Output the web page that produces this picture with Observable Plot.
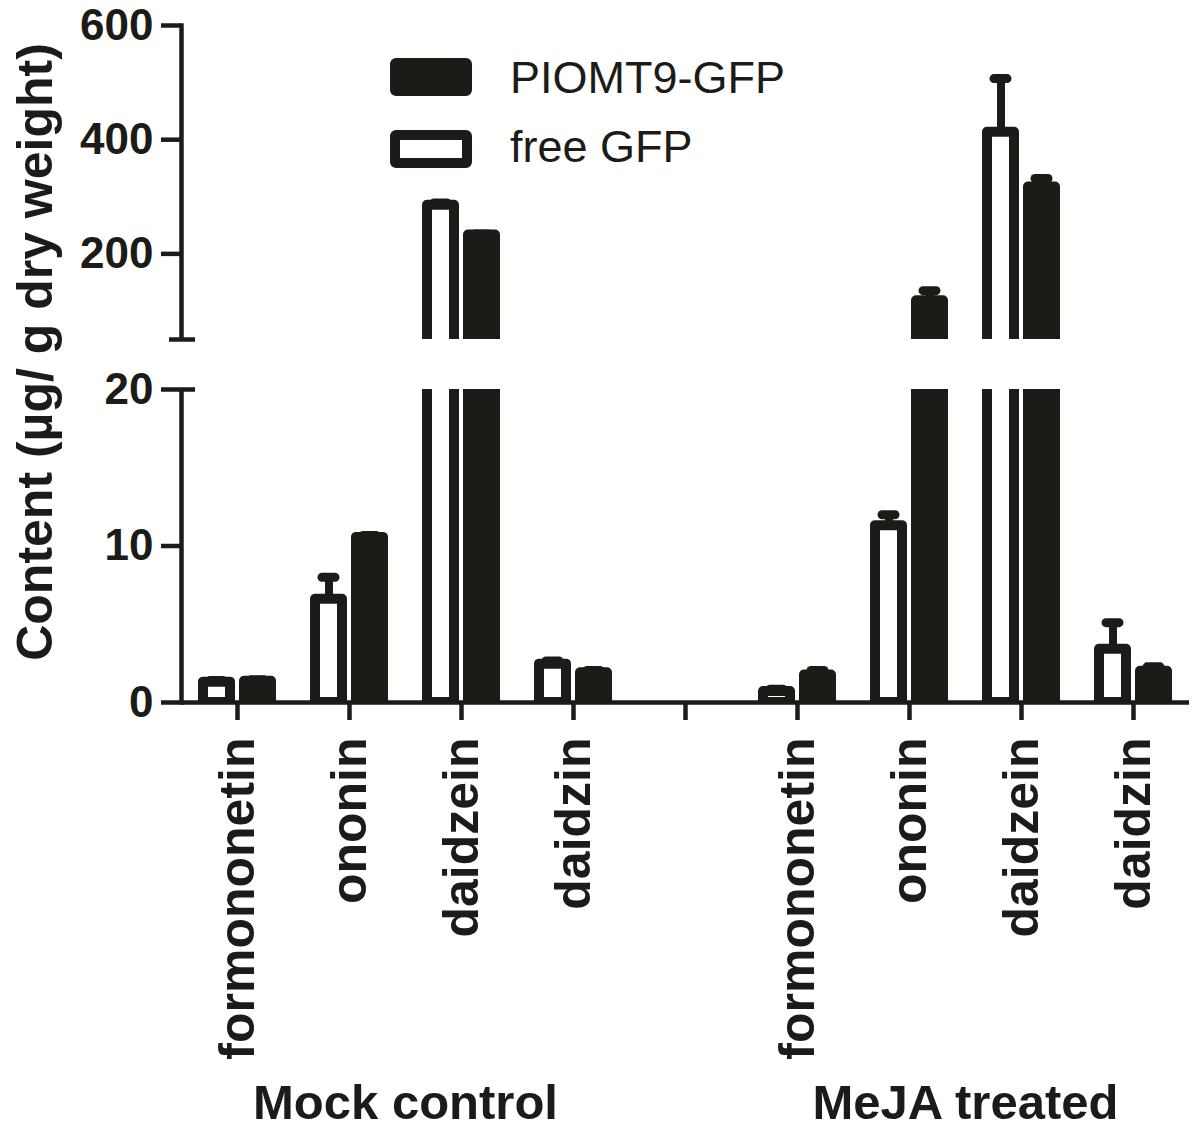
<!DOCTYPE html>
<html>
<head>
<meta charset="utf-8">
<script src="https://cdn.jsdelivr.net/npm/d3@7"></script>
<script src="https://cdn.jsdelivr.net/npm/@observablehq/plot@0.6"></script>
<style>
  body { margin: 0; background: #fff; }
  #wrap { position: relative; width: 1200px; height: 1130px; font-family: 'Liberation Sans', Arial, sans-serif; }
  .sw { position: absolute; left: 390px; width: 82px; height: 38px; border-radius: 6px; box-sizing: border-box; }
  .lt { position: absolute; left: 510px; font-size: 45px; line-height: 1; white-space: nowrap; }
</style>
</head>
<body>
<div id="wrap"></div>
<script>
// ---------- data ----------
const groups = ["Mock control", "MeJA treated"];
const compounds = ["formononetin", "ononin", "daidzein", "daidzin"];
const seriesNames = ["free GFP", "PIOMT9-GFP"];
const legendOrder = ["PIOMT9-GFP", "free GFP"];
const yTitle = "Content (µg/ g dry weight)";

// content (µg/g dry weight), mean and SD, per compound
const mockFree      = [1.3, 6.6, 285, 2.45];
const mockFreeSD    = [0.1, 1.4, 4, 0.2];
const mockPIOMT9    = [1.35, 10.55, 233, 1.9];
const mockPIOMT9SD  = [0.1, 0.12, 2, 0.15];
const mejaFree      = [0.7, 11.3, 413, 3.4];
const mejaFreeSD    = [0.15, 0.7, 94, 1.7];
const mejaPIOMT9    = [1.75, 118, 317, 2.0];
const mejaPIOMT9SD  = [0.3, 17.5, 15, 0.28];

const yTicks = [0, 10, 20, 200, 400, 600];
const yBreak = [20, 50];
const yMax = 600;

// ---------- table ----------
const values = {
  "Mock control": {"free GFP": [mockFree, mockFreeSD], "PIOMT9-GFP": [mockPIOMT9, mockPIOMT9SD]},
  "MeJA treated": {"free GFP": [mejaFree, mejaFreeSD], "PIOMT9-GFP": [mejaPIOMT9, mejaPIOMT9SD]}
};
const GAP = "·gap";
const slotKey = (g, c) => g + "|" + c;
const slots = [
  ...compounds.map(c => slotKey(groups[0], c)),
  GAP,
  ...compounds.map(c => slotKey(groups[1], c))
];
const rows = [];
for (const g of groups) for (const s of seriesNames) compounds.forEach((c, i) => {
  rows.push({slot: slotKey(g, c), group: g, compound: c, series: s,
             value: values[g][s][0][i], sd: values[g][s][1][i]});
});
const groupLabels = groups.map(g => ({slot: slotKey(g, compounds[1]), name: g}));

const ink = "#1d1b18";

const chart = Plot.plot({
  width: 1200,
  height: 1130,
  marginTop: 25,
  marginRight: 10,
  marginBottom: 428,
  marginLeft: 180,
  style: {fontFamily: "'Liberation Sans', Arial, sans-serif", color: ink, background: "white", overflow: "visible"},
  fx: {domain: slots, padding: 0, label: null},
  x: {domain: seriesNames, paddingInner: 0.34, paddingOuter: 0.525, axis: null},
  y: {type: "linear", domain: [0, yBreak[0], yBreak[1], yMax], range: [702, 389, 339, 25], label: null},
  color: {domain: seriesNames, range: ["white", ink]},
  marks: [
    Plot.frame({anchor: "left", facetAnchor: "left", stroke: ink, strokeWidth: 4.5}),
    Plot.barY(rows, {fx: "slot", x: "series", y: "value", fill: "series", stroke: ink,
                     strokeWidth: 10, strokeLinejoin: "round", clip: "frame"}),
    Plot.ruleX(rows, {fx: "slot", x: "series", y1: "value", y2: d => d.value + d.sd,
                      stroke: ink, strokeWidth: 8}),
    Plot.tickY(rows, {fx: "slot", x: "series", y: d => d.value + d.sd, stroke: ink,
                      strokeWidth: 9, strokeLinecap: "round", insetLeft: 7, insetRight: 7}),
    // axis break
    Plot.rect([yBreak], {y1: d => d[0], y2: d => d[1], fill: "white", insetLeft: -8, insetRight: -8}),
    // x baseline
    Plot.ruleY(slots, {fx: d => d, y: () => 0, stroke: ink, strokeWidth: 4.5}),
    Plot.axisY({ticks: yTicks, tickSize: 20, tickPadding: 8, strokeWidth: 4.5, fontSize: 44,
                fontWeight: "bold", label: null, facetAnchor: "left"}),
    Plot.axisY({ticks: yBreak, tickSize: 14, dx: 14, strokeWidth: 4.5, fill: "none", label: null, facetAnchor: "left"}),
    Plot.axisY({ticks: [yBreak[1]], tickSize: 12, strokeWidth: 4.5, fill: "none", label: null, facetAnchor: "left"}),
    Plot.axisFx({anchor: "bottom", tickSize: 18, tickPadding: 17, tickRotate: -90, strokeWidth: 4.5,
                 fontSize: 50, fontWeight: "bold", label: null,
                 tickFormat: d => d === GAP ? "" : d.split("|")[1]}),
    Plot.text([yTitle], {text: d => d, frameAnchor: "left", facetAnchor: "left", rotate: -90,
                         textAnchor: "middle", dx: -146, dy: -12, fontSize: 50, fontWeight: "bold"}),
    Plot.text(groupLabels, {fx: "slot", text: "name", frameAnchor: "bottom-right", textAnchor: "middle",
                            dy: 416, fontSize: 49, fontWeight: "bold"})
  ]
});

const wrap = document.getElementById("wrap");
wrap.appendChild(chart);

// legend (inside plot area, top)
const colorScale = chart.scale("color");
const colorOf = name => colorScale.range[colorScale.domain.indexOf(name)];
legendOrder.forEach((name, i) => {
  const sw = document.createElement("div");
  sw.className = "sw";
  sw.style.top = (58 + i * 72) + "px";
  sw.style.background = colorOf(name);
  sw.style.border = "10px solid " + ink;
  wrap.appendChild(sw);
  const t = document.createElement("div");
  t.className = "lt";
  t.style.top = (55 + i * 68.5) + "px";
  t.style.color = ink;
  t.textContent = name;
  wrap.appendChild(t);
});
</script>
</body>
</html>
